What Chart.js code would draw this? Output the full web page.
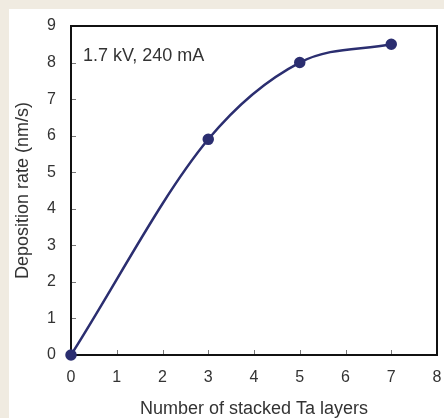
<!DOCTYPE html>
<html>
<head>
<meta charset="utf-8">
<script src="https://cdn.jsdelivr.net/npm/chart.js@4"></script>
<style>
  html, body { margin: 0; padding: 0; }
  body { width: 444px; height: 418px; background: #f0ebe1; position: relative; overflow: hidden; }
  #panel { position: absolute; left: 9px; top: 9px; width: 435px; height: 409px; background: #fff; }
</style>
</head>
<body>
<div id="panel"><canvas id="rateChart" width="435" height="409"></canvas></div>
<script>
// ---- data ----
const layers = [0, 3, 5, 7];
const depositionRate = [0, 5.9, 8.0, 8.5];
const xTicks = [0, 1, 2, 3, 4, 5, 6, 7, 8];
const yTicks = [0, 1, 2, 3, 4, 5, 6, 7, 8, 9];
const conditionLabel = '1.7 kV, 240 mA';
const xTitle = 'Number of stacked Ta layers';
const yTitle = 'Deposition rate (nm/s)';

const lineColor = '#2b2e70';
const textColor = '#333';
const fontFamily = '"Liberation Sans", Arial, sans-serif';

// box around the plot + small inward tick marks + condition label
const framePlugin = {
  id: 'frame',
  beforeDatasetsDraw(chart) {
    const { ctx, chartArea: a, scales: { x, y } } = chart;
    ctx.save();
    ctx.strokeStyle = '#777';
    ctx.lineWidth = 1;
    ctx.beginPath();
    xTicks.forEach(v => {
      const px = Math.round(x.getPixelForValue(v)) + 0.5;
      ctx.moveTo(px, a.bottom);
      ctx.lineTo(px, a.bottom - 5);
    });
    yTicks.forEach(v => {
      const py = Math.round(y.getPixelForValue(v)) + 0.5;
      ctx.moveTo(a.left, py);
      ctx.lineTo(a.left + 5, py);
    });
    ctx.stroke();

    ctx.strokeStyle = '#111';
    ctx.lineWidth = 2;
    ctx.strokeRect(a.left, a.top, a.right - a.left, a.bottom - a.top);

    ctx.fillStyle = textColor;
    ctx.font = '18px ' + fontFamily;
    ctx.textBaseline = 'middle';
    ctx.textAlign = 'left';
    ctx.fillText(conditionLabel, x.getPixelForValue(0.26), y.getPixelForValue(8.19));
    ctx.restore();
  }
};

new Chart(document.getElementById('rateChart'), {
  type: 'line',
  data: {
    datasets: [{
      data: layers.map((l, i) => ({ x: l, y: depositionRate[i] })),
      borderColor: lineColor,
      backgroundColor: lineColor,
      borderWidth: 2.5,
      pointRadius: 4.5,
      pointHoverRadius: 4.5,
      cubicInterpolationMode: 'monotone',
      clip: false
    }]
  },
  options: {
    responsive: false,
    animation: false,
    layout: { padding: { top: 17, right: 6, left: 0, bottom: 0 } },
    plugins: {
      legend: { display: false },
      tooltip: { enabled: false }
    },
    scales: {
      x: {
        type: 'linear',
        min: 0,
        max: 8,
        afterBuildTicks: s => { s.ticks = xTicks.map(v => ({ value: v })); },
        afterFit: s => {
          s.height = 63;
          s.paddingLeft = 0;
          s.paddingRight = 0;
        },
        grid: { display: false, drawTicks: false },
        border: { display: false },
        ticks: { padding: 13, color: textColor, font: { family: fontFamily, size: 16 } },
        title: {
          display: true,
          text: xTitle,
          color: textColor,
          font: { family: fontFamily, size: 18, lineHeight: 1 },
          padding: { top: 0, bottom: 0 }
        }
      },
      y: {
        min: 0,
        max: 9,
        afterBuildTicks: s => { s.ticks = yTicks.map(v => ({ value: v })); },
        afterFit: s => {
          s.width = 62;
          s.paddingTop = 0;
          s.paddingBottom = 0;
        },
        grid: { display: false, drawTicks: false },
        border: { display: false },
        ticks: { padding: 15, color: textColor, font: { family: fontFamily, size: 16 } },
        title: {
          display: true,
          text: yTitle,
          color: textColor,
          font: { family: fontFamily, size: 18, lineHeight: 1 },
          padding: { top: 5, bottom: 0 }
        }
      }
    }
  },
  plugins: [framePlugin]
});
</script>
</body>
</html>
